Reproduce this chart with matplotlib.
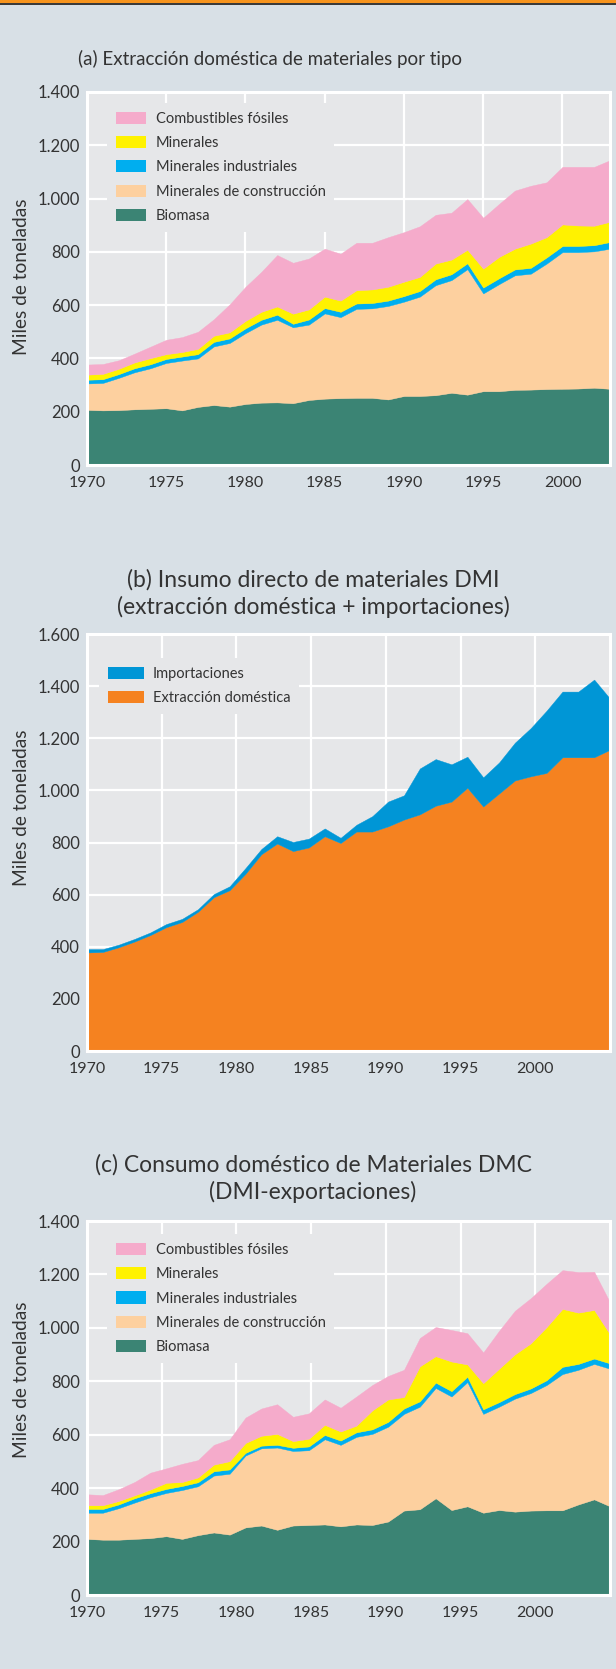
import matplotlib.pyplot as plt
import numpy as np
from matplotlib.patches import Patch, Rectangle

plt.rcParams['font.family'] = ['Lato', 'DejaVu Sans']

years = np.arange(1970, 2004)

# (a) Extraccion domestica de materiales por tipo (miles de toneladas)
biomasa_a = [207, 205, 206, 209, 211, 213, 205, 218, 225, 219, 229, 234, 235, 232, 244, 249, 251, 252, 252, 246,
             259, 259, 262, 271, 264, 277, 277, 282, 283, 285, 286, 287, 290, 286]
construccion_a = [99, 103, 121, 139, 152, 170, 187, 182, 220, 239, 266, 293, 310, 285, 283, 320, 304, 334, 336, 351,
                  354, 373, 413, 423, 471, 367, 402, 430, 435, 471, 513, 512, 512, 526]
industriales_a = [14, 14, 14, 15, 15, 15, 15, 16, 17, 17, 18, 18, 19, 13, 19, 20, 20, 20, 20, 20,
                  21, 21, 22, 22, 22, 22, 22, 22, 22, 23, 23, 23, 23, 25]
minerales_a = [19, 20, 20, 22, 23, 18, 17, 20, 23, 23, 28, 30, 31, 38, 38, 43, 42, 50, 51, 52,
               54, 53, 59, 55, 51, 71, 80, 78, 91, 76, 81, 77, 73, 76]
combustibles_a = [38, 37, 32, 33, 43, 54, 56, 64, 62, 105, 128, 150, 193, 191, 191, 180, 176, 178, 175, 186,
                  186, 190, 183, 176, 190, 191, 199, 218, 217, 206, 216, 220, 221, 231]

# (b) DMI = extraccion domestica + importaciones
extraccion_b = [378, 380, 398, 420, 445, 475, 495, 534, 590, 617, 680, 755, 796, 767, 781, 824, 798, 842, 842, 862,
                888, 908, 941, 957, 1010, 938, 988, 1038, 1054, 1067, 1127, 1127, 1127, 1156]
importaciones_b = [13, 11, 10, 10, 10, 12, 12, 10, 12, 15, 22, 20, 28, 35, 34, 30, 20, 26, 59, 95,
                   93, 176, 179, 143, 119, 112, 119, 145, 185, 239, 252, 252, 298, 196]

# (c) DMC = DMI - exportaciones
biomasa_c = [210, 207, 207, 210, 213, 220, 210, 224, 234, 226, 253, 260, 244, 260, 262, 264, 257, 264, 262, 275,
             316, 321, 362, 318, 332, 308, 318, 312, 316, 317, 317, 339, 358, 332]
construccion_c = [98, 101, 118, 136, 153, 162, 183, 183, 213, 228, 269, 289, 308, 279, 280, 319, 305, 328, 341, 355,
                  362, 384, 413, 425, 465, 370, 387, 423, 440, 469, 510, 504, 507, 515]
industriales_c = [14, 14, 14, 16, 15, 15, 15, 15, 16, 16, 10, 10, 10, 12, 14, 16, 16, 17, 17, 18,
                  20, 20, 20, 20, 20, 17, 17, 17, 17, 18, 27, 22, 20, 20]
minerales_c = [14, 14, 13, 11, 14, 23, 15, 18, 25, 31, 37, 37, 41, 25, 29, 38, 34, 25, 71, 84,
               43, 131, 99, 111, 46, 98, 125, 149, 169, 199, 217, 192, 182, 109]
combustibles_c = [41, 38, 44, 50, 63, 54, 68, 65, 74, 82, 95, 102, 111, 91, 95, 95, 89, 109, 95, 88,
                  102, 106, 109, 118, 117, 115, 142, 163, 169, 162, 145, 152, 143, 119]

tipos = ['Biomasa', 'Minerales de construcción', 'Minerales industriales', 'Minerales', 'Combustibles fósiles']
colores = ['#3b8474', '#fdd09f', '#00aeef', '#fff200', '#f5abcb']
tick_years = [1970, 1975, 1980, 1985, 1990, 1995, 2000]

BG = '#d8e0e6'
AX_BG = '#e6e7e9'
TXT = '#333333'
W, H = 616, 1669

fig = plt.figure(figsize=(W / 100, H / 100), dpi=100)
fig.patch.set_facecolor(BG)
fig.add_artist(Rectangle((0, 1 - 3.3 / H), 1, 3.3 / H, transform=fig.transFigure, color='#f7941d', lw=0))
fig.add_artist(Rectangle((0, 1 - 4.8 / H), 1, 1.5 / H, transform=fig.transFigure, color='#3a3a3a', lw=0))


def make_axes(top, bottom):
    return fig.add_axes([87 / W, 1 - bottom / H, 523 / W, (bottom - top) / H])


def style(ax, ymax, xt):
    ax.set_facecolor(AX_BG)
    ax.set_xlim(1970, 2003)
    ax.set_ylim(0, ymax)
    yt = np.arange(0, ymax + 1, 200)
    ax.set_yticks(yt)
    ax.set_yticklabels([f'{v:,}'.replace(',', '.') for v in yt])
    ax.set_xticks(xt)
    ax.set_xticklabels([str(y) for y in tick_years])
    ax.grid(True, color='white', lw=1.6)
    ax.set_axisbelow(True)
    for s in ax.spines.values():
        s.set_color('white')
        s.set_linewidth(2.2)
    ax.tick_params(length=0, colors=TXT)
    ax.tick_params(axis='y', pad=5, labelsize=12)
    ax.tick_params(axis='x', pad=8, labelsize=11.5)


def stack(ax, series, cols):
    polys = ax.stackplot(years, *series, colors=cols, lw=0)
    for p, c in zip(polys, cols):
        p.set_edgecolor(c)
        p.set_linewidth(0.3)


def legend(ax, labels, cols, x0, y1, hl):
    handles = [Patch(facecolor=c, edgecolor='none', label=l) for l, c in zip(labels, cols)]
    leg = ax.legend(handles=handles, loc='upper left', bbox_to_anchor=(x0, y1), borderaxespad=0,
                    frameon=True, facecolor=AX_BG, edgecolor='none', framealpha=1, fancybox=False,
                    fontsize=10.5, handlelength=hl, handleheight=0.9, handletextpad=0.65,
                    labelspacing=0.7, borderpad=0.6)
    for t in leg.get_texts():
        t.set_color(TXT)
    leg.set_zorder(5)


def ylabel(y):
    fig.text(22 / W, 1 - y / H, 'Miles de toneladas', rotation=90, ha='center', va='center',
             fontsize=13.8, color=TXT)


# (a)
ax1 = make_axes(92, 465)
stack(ax1, [biomasa_a, construccion_a, industriales_a, minerales_a, combustibles_a], colores)
style(ax1, 1400, tick_years)
legend(ax1, tipos[::-1], colores[::-1], 0.038, 0.9705, 2.1)
fig.text(270 / W, 1 - 65 / H, '(a) Extracción doméstica de materiales por tipo', ha='center',
         va='baseline', fontsize=13.5, color=TXT)
ylabel(277)

# b and c: their grid is laid out for 1970-2005 while the data spans the full width
xt_bc = [1970 + (y - 1970) * 33 / 35 for y in tick_years]

# (b)
ax2 = make_axes(634, 1051)
stack(ax2, [extraccion_b, importaciones_b], ['#f58220', '#0096d6'])
style(ax2, 1600, xt_bc)
legend(ax2, ['Importaciones', 'Extracción doméstica'], ['#0096d6', '#f58220'], 0.023, 0.9424, 2.45)
fig.text(313 / W, 1 - 587 / H, '(b) Insumo directo de materiales DMI', ha='center', va='baseline',
         fontsize=16.5, color=TXT)
fig.text(313 / W, 1 - 614 / H, '(extracción doméstica + importaciones)', ha='center', va='baseline',
         fontsize=16.5, color=TXT)
ylabel(808)

# (c)
ax3 = make_axes(1221, 1595)
stack(ax3, [biomasa_c, construccion_c, industriales_c, minerales_c, combustibles_c], colores)
style(ax3, 1400, xt_bc)
legend(ax3, tipos[::-1], colores[::-1], 0.038, 0.965, 2.1)
fig.text(313 / W, 1 - 1172 / H, '(c) Consumo doméstico de Materiales DMC', ha='center', va='baseline',
         fontsize=16.5, color=TXT)
fig.text(313 / W, 1 - 1199 / H, '(DMI-exportaciones)', ha='center', va='baseline',
         fontsize=16.5, color=TXT)
ylabel(1380)

fig.savefig('out.png', dpi=100, facecolor=BG)
